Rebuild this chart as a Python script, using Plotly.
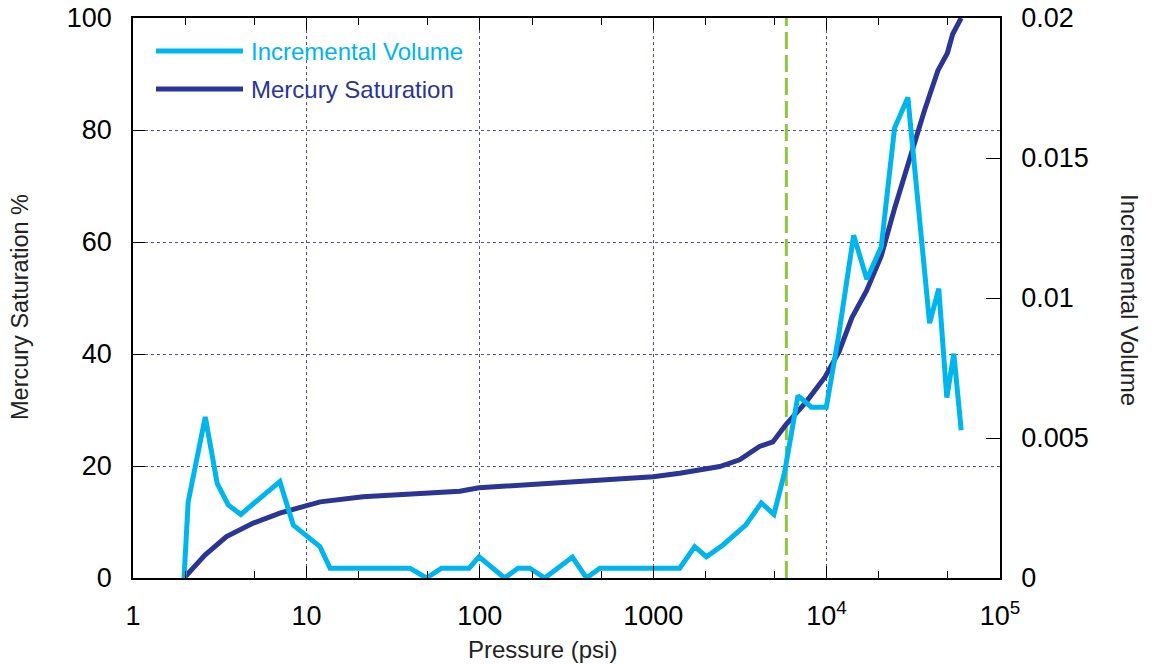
import plotly.graph_objects as go

# Incremental Volume (right axis)
iv_p = [1.97, 2.08, 2.61, 3.06, 3.54, 4.19, 4.98, 7.03, 8.4, 11.96, 13.7, 39.5, 49.3, 60.1, 86.8,
        99, 139, 166, 194, 237, 342, 412, 492, 1422, 1735, 2027, 2525, 3414, 4203, 4968, 5728,
        6836, 8166, 9960, 11620, 14320, 17060, 20660, 24660, 29420, 39260, 44360, 49340, 54170, 59740]
iv_v = [0.0, 0.00271, 0.00575, 0.00338, 0.00261, 0.00227, 0.00267, 0.00344, 0.00189, 0.00112, 0.00035,
        0.00035, 0.0, 0.00035, 0.00035, 0.00076, 0.0, 0.00035, 0.00035, 0.0, 0.00075, 0.0, 0.00035,
        0.00035, 0.00112, 0.00076, 0.00118, 0.00189, 0.00268, 0.00227, 0.00378, 0.00651, 0.0061, 0.0061,
        0.00849, 0.01224, 0.01067, 0.01183, 0.01607, 0.01716, 0.0091, 0.01033, 0.00644, 0.00801, 0.00528]

# Mercury Saturation (left axis)
ms_p = [1.97, 2.6, 3.46, 4.94, 7.03, 10, 12, 21.2, 49, 76.6, 99, 345, 1000, 1422, 2420, 3152, 4100,
        4900, 5830, 7650, 9800, 11800, 14000, 17000, 20660, 24660, 30200, 36600, 43800, 49700, 53300, 59740]
ms_s = [0.0, 4.1, 7.4, 9.8, 11.6, 13.0, 13.6, 14.5, 15.1, 15.5, 16.1, 17.2, 18.1, 18.7, 19.9, 21.1, 23.5,
        24.3, 27.4, 31.5, 35.9, 40.4, 46.5, 51.3, 57.5, 66.0, 75.2, 83.4, 90.6, 93.7, 97.1, 100.0]

threshold_p = [5860, 5860]
threshold_s = [0, 100]

x_tickvals = [1, 10, 100, 1000, 1e4, 1e5]
x_ticktext = ["1", "10", "100", "1000", "10<sup>4</sup>", "10<sup>5</sup>"]
y_tickvals = [0, 20, 40, 60, 80, 100]
y2_tickvals = [0, 0.005, 0.01, 0.015, 0.02]
y2_ticktext = ["0", "0.005", "0.01", "0.015", "0.02"]

CYAN = "#00b5eb"
NAVY = "#2b3593"
GREEN = "#8dc63f"
GRID = "#4f4fae"
FONT = "Liberation Sans, Arial, sans-serif"

fig = go.Figure()
fig.add_trace(go.Scatter(x=threshold_p, y=threshold_s, mode="lines", yaxis="y",
                         line=dict(color=GREEN, width=3, dash="17px,6px"), showlegend=False, hoverinfo="skip"))
fig.add_trace(go.Scatter(x=ms_p, y=ms_s, mode="lines", yaxis="y", name="Mercury Saturation",
                         line=dict(color=NAVY, width=5), showlegend=False))
fig.add_trace(go.Scatter(x=iv_p, y=iv_v, mode="lines", yaxis="y2", name="Incremental Volume",
                         line=dict(color=CYAN, width=5), showlegend=False))

# manual legend (paper coordinates relative to plot area)
W, H = 867.0, 560.0
def px(x):
    return (x - 133) / W
def py(y):
    return (578 - y) / H

shapes = []
annotations = []
for label, color, ypix in [("Incremental Volume", CYAN, 51), ("Mercury Saturation", NAVY, 89)]:
    shapes.append(dict(type="line", xref="paper", yref="paper", x0=px(156), x1=px(243),
                       y0=py(ypix), y1=py(ypix), line=dict(color=color, width=5)))
    annotations.append(dict(text=label, xref="paper", yref="paper", x=px(249), y=py(ypix),
                            xanchor="left", yanchor="middle", showarrow=False,
                            font=dict(size=24, color=color)))

annotations += [
    dict(text="Pressure (psi)", xref="paper", yref="paper", x=px(542), y=py(649),
         xanchor="center", yanchor="middle", showarrow=False, font=dict(size=24, color="#222")),
    dict(text="Mercury Saturation %", textangle=-90, xref="paper", yref="paper", x=px(20), y=py(307),
         xanchor="center", yanchor="middle", showarrow=False, font=dict(size=23.5, color="#222")),
    dict(text="Incremental Volume", textangle=90, xref="paper", yref="paper", x=px(1130), y=py(300),
         xanchor="center", yanchor="middle", showarrow=False, font=dict(size=24, color="#222")),
]

fig.update_layout(
    width=1154, height=664,
    margin=dict(l=133, r=154, t=18, b=86, autoexpand=False),
    paper_bgcolor="white", plot_bgcolor="white",
    font=dict(family=FONT, size=27, color="black"),
    xaxis=dict(type="log", range=[0, 5], tickvals=x_tickvals, ticktext=x_ticktext,
               ticks="inside", ticklen=12, tickcolor="black", ticklabelstandoff=13,
               ticklabeloverflow="allow",
               minor=dict(ticks="inside", ticklen=7, tickcolor="black", showgrid=False),
               showline=True, linecolor="black", linewidth=1.5, mirror="ticks",
               showgrid=True, gridcolor=GRID, griddash="dot", gridwidth=1,
               zeroline=False, tickfont=dict(size=27)),
    yaxis=dict(range=[0, 100], tickvals=y_tickvals, ticks="inside", ticklen=12, tickcolor="black",
               ticklabelstandoff=14, ticklabeloverflow="allow",
               showline=True, linecolor="black", linewidth=1.5,
               showgrid=True, gridcolor=GRID, griddash="dot", gridwidth=1, zeroline=False,
               tickfont=dict(size=27)),
    yaxis2=dict(range=[0, 0.02], overlaying="y", side="right", tickvals=y2_tickvals,
                ticktext=y2_ticktext, ticks="inside", ticklen=14, tickcolor="black",
                ticklabelstandoff=14, ticklabeloverflow="allow",
                showline=True, linecolor="black", linewidth=1.5, showgrid=False, zeroline=False,
                tickfont=dict(size=27)),
    shapes=shapes,
    annotations=annotations,
    showlegend=False,
)

fig.write_html("out.html", config={"displayModeBar": False},
               post_script="document.body.style.margin='0px';document.body.style.overflow='hidden';")
